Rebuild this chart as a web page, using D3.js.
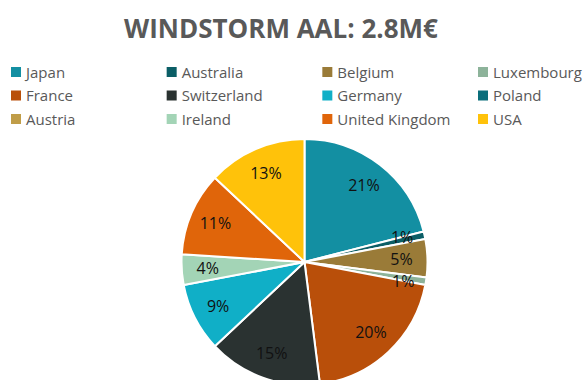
<!DOCTYPE html>
<html>
<head>
<meta charset="utf-8">
<script src="https://cdn.jsdelivr.net/npm/d3@7"></script>
<style>
  html, body { margin: 0; padding: 0; background: #fff; overflow: hidden; }
  svg { display: block; font-family: "Open Sans", sans-serif; }
</style>
</head>
<body>
<svg id="chart" width="586" height="380"></svg>
<script>
// Windstorm average annual loss split by country (percent of total)
const countries = ["Japan", "Australia", "Belgium", "Luxembourg", "France", "Switzerland",
                   "Germany", "Poland", "Austria", "Ireland", "United Kingdom", "USA"];
const shares = [21, 1, 5, 1, 20, 15, 9, 0, 0, 4, 11, 13];
const colors = ["#138FA2", "#0B5E66", "#9A7B38", "#8DB39A", "#B94F0A", "#2A3231",
                "#10AFC7", "#0B6E7B", "#C09D48", "#A3D4B6", "#E0650A", "#FFC20A"];
const title = "WINDSTORM AAL: 2.8M€";

const W = 586, H = 380;
const svg = d3.select("#chart");

const data = countries.map((c, i) => ({ country: c, value: shares[i], color: colors[i] }));

// Title
svg.append("text")
  .attr("x", 281).attr("y", 38)
  .attr("text-anchor", "middle")
  .attr("font-weight", 700)
  .attr("font-size", 26)
  .attr("fill", "#595959")
  .text(title);

// Legend: four columns, filled row by row
const legendCols = 4;
const colX = d3.scaleLinear().domain([0, legendCols - 1]).range([11, 478]);
const rowY = d3.scaleLinear().domain([0, 2]).range([72, 119]);
const legend = svg.append("g").selectAll("g")
  .data(data)
  .join("g")
  .attr("transform", (d, i) => `translate(${colX(i % legendCols)},${rowY(Math.floor(i / legendCols))})`);
legend.append("rect")
  .attr("x", 0).attr("y", -5)
  .attr("width", 10).attr("height", 10)
  .attr("fill", d => d.color);
legend.append("text")
  .attr("x", 15).attr("y", 5.5)
  .attr("font-size", 15)
  .attr("fill", "#595959")
  .text(d => d.country);

// Pie
const cx = 304.5, cy = 262, R = 123;
const pie = d3.pie().value(d => d.value).sort(null);
const arc = d3.arc().innerRadius(0).outerRadius(R);
const labelArc = d3.arc().innerRadius(97).outerRadius(97);
const smallArc = d3.arc().innerRadius(100).outerRadius(100);
const arcs = pie(data);
const shown = arcs.filter(d => d.data.value > 0);

const g = svg.append("g").attr("transform", `translate(${cx},${cy})`);
g.selectAll("path")
  .data(shown)
  .join("path")
  .attr("d", arc)
  .attr("fill", d => d.data.color)
  .attr("stroke", "#fff")
  .attr("stroke-width", 2)
  .attr("stroke-linejoin", "round");

// Label anchors at the slice centroids; thin slices sit a little further out
const labels = shown.map(d => {
  const [x, y] = (d.data.value < 3 ? smallArc : labelArc).centroid(d);
  return { d, x, y };
});

// Nudge neighbouring labels apart vertically so they don't collide
const minGap = 22, minDx = 30;
for (let iter = 0; iter < 30; iter++) {
  let moved = false;
  for (let i = 0; i < labels.length; i++) {
    for (let j = i + 1; j < labels.length; j++) {
      const a = labels[i], b = labels[j];
      if (Math.abs(a.x - b.x) > minDx) continue;
      const dy = b.y - a.y;
      if (Math.abs(dy) < minGap) {
        const push = (minGap - Math.abs(dy)) / 2 * (dy >= 0 ? 1 : -1);
        a.y -= push; b.y += push;
        moved = true;
      }
    }
  }
  if (!moved) break;
}

g.selectAll("text.lbl")
  .data(labels)
  .join("text")
  .attr("class", "lbl")
  .attr("x", l => l.x)
  .attr("y", l => l.y)
  .attr("text-anchor", "middle")
  .attr("dy", "0.36em")
  .attr("font-size", 16)
  .attr("fill", "#111")
  .text(l => l.d.data.value + "%");
</script>
</body>
</html>
